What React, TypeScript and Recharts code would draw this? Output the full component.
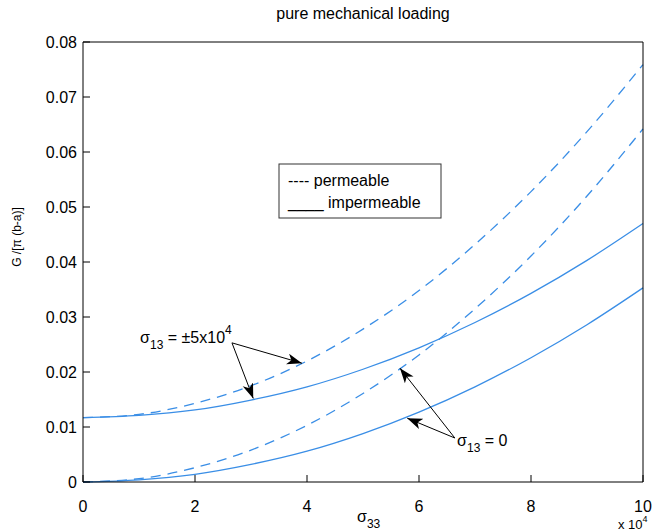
import { LineChart, Line, XAxis, YAxis, ReferenceLine, ReferenceDot, Customized } from 'recharts';

// sigma_33 in units of 1e4
const sigma33 = [0, 1, 2, 3, 4, 5, 6, 7, 8, 9, 10];
// sigma_13 = +/-5e4
const permeableShear = [0.0117, 0.0123, 0.0143, 0.0175, 0.022, 0.0278, 0.0348, 0.0432, 0.0528, 0.0637, 0.0759];
const impermeableShear = [0.0117, 0.0121, 0.0131, 0.0149, 0.0173, 0.0205, 0.0244, 0.029, 0.0343, 0.0403, 0.047];
// sigma_13 = 0
const permeableZero = [0, 0.0006, 0.0026, 0.0058, 0.0103, 0.0161, 0.0231, 0.0315, 0.0411, 0.052, 0.0642];
const impermeableZero = [0, 0.0004, 0.0014, 0.0032, 0.0056, 0.0088, 0.0127, 0.0173, 0.0226, 0.0286, 0.0353];

const xTicks = [0, 2, 4, 6, 8, 10];
const yTicks = [0, 0.01, 0.02, 0.03, 0.04, 0.05, 0.06, 0.07, 0.08];

// annotation anchors in data units
const shearLabelAt = { x: 1.02, y: 0.0253 };
const shearArrowFrom = { x: 2.66, y: 0.0253 };
const shearArrowTo = [
  { x: 3.91, y: 0.0216 },
  { x: 3.04, y: 0.0152 },
];
const zeroLabelAt = { x: 6.68, y: 0.0065 };
const zeroArrowFrom = { x: 6.64, y: 0.008 };
const zeroArrowTo = [
  { x: 5.66, y: 0.0207 },
  { x: 5.79, y: 0.0116 },
];

const rows = sigma33.map((s, i) => ({
  s,
  permeableShear: permeableShear[i],
  impermeableShear: impermeableShear[i],
  permeableZero: permeableZero[i],
  impermeableZero: impermeableZero[i],
}));

const FONT = '"Liberation Sans", Arial, Helvetica, sans-serif';
const BLUE = '#3a8ee6';

function Decorations() {
  return (
    <g fontFamily={FONT}>
      <defs>
        <marker id="arrowHead" markerUnits="userSpaceOnUse" markerWidth={16} markerHeight={12} refX={15} refY={5.5} orient="auto">
          <path d="M0,0 L15,5.5 L0,11 L4,5.5 Z" fill="#000" />
        </marker>
      </defs>
      <text x={363} y={19} textAnchor="middle" fontSize={16} fill="#000">
        pure mechanical loading
      </text>
      <text x={21} y={237} transform="rotate(-90 21 237)" textAnchor="middle" fontSize={12} fill="#000">
        G /[π (b-a)]
      </text>
      <text x={357} y={522} fontSize={16} fill="#000">
        σ<tspan dy={6} fontSize={12}>33</tspan>
      </text>
      <text x={618} y={529} fontSize={13} fill="#000">
        x 10<tspan dy={-7} fontSize={9}>4</tspan>
      </text>
      <rect x={279} y={164} width={162} height={54} fill="#fff" stroke="#333" strokeWidth={1} />
      <text x={288} y={186} fontSize={16} fill="#000">
        ---- permeable
      </text>
      <text x={288} y={208} fontSize={16} fill="#000">
        ____ impermeable
      </text>
    </g>
  );
}

function ShearLabel(p: any) {
  return (
    <text x={p.cx} y={p.cy} fontSize={16} fontFamily={FONT} fill="#000">
      σ<tspan dy={6} fontSize={12}>13</tspan>
      <tspan dy={-6}> = ±5x10</tspan>
      <tspan dy={-9} fontSize={12}>4</tspan>
    </text>
  );
}

function ZeroLabel(p: any) {
  return (
    <text x={p.cx} y={p.cy} fontSize={16} fontFamily={FONT} fill="#000">
      σ<tspan dy={6} fontSize={12}>13</tspan>
      <tspan dy={-6}> = 0</tspan>
    </text>
  );
}

export default function App() {
  const tickStyle = { fontSize: 16, fill: '#000', fontFamily: FONT };
  return (
    <div style={{ position: 'absolute', left: 0, top: 0, background: '#fff' }}>
      <LineChart width={665} height={531} data={rows} margin={{ top: 41, right: 21, bottom: 19, left: 23 }}>
        <XAxis
          dataKey="s"
          type="number"
          domain={[0, 10]}
          ticks={xTicks}
          tickSize={-7}
          tickMargin={26}
          height={30}
          stroke="#000"
          tick={tickStyle}
        />
        <XAxis xAxisId="top" dataKey="s" type="number" orientation="top" domain={[0, 10]} ticks={xTicks} tickSize={-7} height={1} stroke="#000" tick={false} />
        <YAxis
          type="number"
          domain={[0, 0.08]}
          ticks={yTicks}
          tickSize={-7}
          tickMargin={13}
          width={60}
          stroke="#000"
          tick={tickStyle}
          tickFormatter={(v: number) => (v === 0 ? '0' : v.toFixed(2))}
        />
        <YAxis yAxisId="right" orientation="right" type="number" domain={[0, 0.08]} ticks={yTicks} tickSize={-7} width={1} stroke="#000" tick={false} />
        <Customized component={Decorations} />
        <Line dataKey="permeableShear" type="monotone" stroke={BLUE} strokeWidth={1.3} strokeDasharray="10 7" dot={false} isAnimationActive={false} />
        <Line dataKey="impermeableShear" type="monotone" stroke={BLUE} strokeWidth={1.3} dot={false} isAnimationActive={false} />
        <Line dataKey="permeableZero" type="monotone" stroke={BLUE} strokeWidth={1.3} strokeDasharray="10 7" dot={false} isAnimationActive={false} />
        <Line dataKey="impermeableZero" type="monotone" stroke={BLUE} strokeWidth={1.3} dot={false} isAnimationActive={false} />
        {shearArrowTo.map((t, i) => (
          <ReferenceLine key={'s' + i} segment={[shearArrowFrom, t]} stroke="#000" strokeWidth={1} markerEnd="url(#arrowHead)" />
        ))}
        {zeroArrowTo.map((t, i) => (
          <ReferenceLine key={'z' + i} segment={[zeroArrowFrom, t]} stroke="#000" strokeWidth={1} markerEnd="url(#arrowHead)" />
        ))}
        <ReferenceDot x={shearLabelAt.x} y={shearLabelAt.y} r={1} shape={ShearLabel} />
        <ReferenceDot x={zeroLabelAt.x} y={zeroLabelAt.y} r={1} shape={ZeroLabel} />
      </LineChart>
    </div>
  );
}
